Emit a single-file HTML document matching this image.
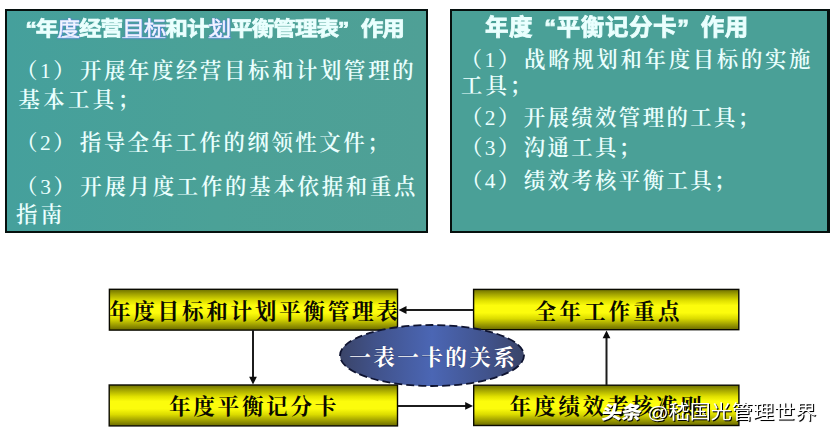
<!DOCTYPE html>
<html lang="zh-CN">
<head>
<meta charset="utf-8">
<title>一表一卡的关系</title>
<style>
html,body{margin:0;padding:0;background:#fff;}
body{width:830px;height:436px;position:relative;overflow:hidden;}
.panel{position:absolute;box-sizing:border-box;background:#4aa097;border:2px solid #06100e;}
#p1{left:5px;top:9px;width:423px;height:224px;background:linear-gradient(90deg,#45a09c 0%,#4ba197 50%,#4fa096 100%);}
#p2{left:450px;top:9px;width:380px;height:224px;border-width:2px 3px 2px 2px;}
.t{position:absolute;white-space:nowrap;color:#eafffe;line-height:30px;height:30px;}
.h{font-family:"Liberation Sans","Noto Sans CJK SC",sans-serif;font-weight:700;-webkit-text-stroke:0.8px #eafffe;}
.k{font-family:"Liberation Serif","Noto Serif CJK SC",serif;font-weight:600;font-size:21.4px;letter-spacing:2.4px;}
.k i{font-style:normal;font-weight:400;}
.q{display:inline-block;width:1em;}
.ql{text-align:right;}
.qr{text-align:left;}
.lk{color:#f3f6ff;font-weight:400;-webkit-text-stroke:0.3px #e8eeff;text-decoration:underline;text-decoration-color:#e3eaff;text-decoration-thickness:1px;text-underline-offset:1.2px;text-shadow:0 0 1px #5a7ae0,0 0 2px #5a7ae0,1px 0 1px #6f8fe8;}
.bt{position:absolute;white-space:nowrap;color:#0a0a00;font-family:"Liberation Serif","Noto Serif CJK SC",serif;font-weight:700;font-size:21.6px;line-height:30px;height:30px;}
svg{position:absolute;left:0;top:0;}
#wm{position:absolute;white-space:nowrap;left:602px;top:398px;height:30px;line-height:30px;color:#fff;font-family:"Liberation Sans","Noto Sans CJK SC",sans-serif;font-size:21.1px;transform:scaleY(0.9);
 text-shadow:1px 1px 0 #000,1px 1px 1px rgba(0,0,0,.5);}
#wm b{display:inline-block;font-weight:900;font-size:20.3px;letter-spacing:-0.6px;margin-left:-0.5px;margin-right:6.3px;transform:skewX(-8deg);}
</style>
</head>
<body>

<div class="panel" id="p1"></div>
<div class="panel" id="p2"></div>

<!-- left panel text -->
<div class="t h" style="left:13.2px;top:15.3px;font-size:22.6px;letter-spacing:-1px;transform:scaleY(0.9);"><span class="q ql">“</span>年<span class="lk">度</span>经营<span class="lk">目标</span>和计<span class="lk">划</span>平衡管理表<span class="q qr">”</span>作用</div>
<div class="t k" style="left:16px;top:56.3px;letter-spacing:2.63px;">（<i>1</i>）<span style="display:inline-block;width:2.5px"></span>开展年度经营目标和计划管理的</div>
<div class="t k" style="left:18.5px;top:84.5px;letter-spacing:3.4px;">基本工具；</div>
<div class="t k" style="left:16px;top:128px;letter-spacing:2.57px;">（<i>2</i>）<span style="display:inline-block;width:2.5px"></span>指导全年工作的纲领性文件；</div>
<div class="t k" style="left:16px;top:172px;letter-spacing:2.75px;">（<i>3</i>）<span style="display:inline-block;width:2.5px"></span>开展月度工作的基本依据和重点</div>
<div class="t k" style="left:16px;top:199.8px;letter-spacing:3.4px;">指南</div>

<!-- right panel text -->
<div class="t h" style="left:485px;top:11.6px;font-size:23.5px;letter-spacing:0.6px;transform:scaleY(0.96);">年度<span class="q ql">“</span>平衡记分卡<span class="q qr">”</span>作用</div>
<div class="t k" style="left:460.5px;top:44.5px;letter-spacing:2.7px;">（<i>1</i>）<span style="display:inline-block;width:2px"></span>战略规划和年度目标的实施</div>
<div class="t k" style="left:461px;top:71px;letter-spacing:3px;">工具；</div>
<div class="t k" style="left:461px;top:103px;">（<i>2</i>）<span style="display:inline-block;width:2px"></span>开展绩效管理的工具；</div>
<div class="t k" style="left:461px;top:133.4px;">（<i>3</i>）<span style="display:inline-block;width:2px"></span>沟通工具；</div>
<div class="t k" style="left:461px;top:166px;">（<i>4</i>）<span style="display:inline-block;width:2px"></span>绩效考核平衡工具；</div>

<!-- diagram boxes -->
<svg width="830" height="436" viewBox="0 0 830 436">
 <defs>
  <linearGradient id="yg" x1="0" y1="0" x2="0" y2="1">
   <stop offset="0" stop-color="#6e7000"/>
   <stop offset="0.12" stop-color="#a2a300"/>
   <stop offset="0.28" stop-color="#e0e000"/>
   <stop offset="0.40" stop-color="#fcfc0c"/>
   <stop offset="0.58" stop-color="#fcfc0c"/>
   <stop offset="0.72" stop-color="#dcdc00"/>
   <stop offset="0.88" stop-color="#9a9a00"/>
   <stop offset="1" stop-color="#6a6a00"/>
  </linearGradient>
 </defs>
 <g fill="url(#yg)" stroke="#0a0a00" stroke-width="1.4">
  <rect x="109.4" y="289.3" width="288.1" height="40.8"/>
  <rect x="109.2" y="385" width="288.3" height="40.9"/>
  <rect x="473.6" y="289.4" width="265.2" height="40.3"/>
  <rect x="473.7" y="385.2" width="265.2" height="40.3"/>
 </g>
</svg>

<div class="bt" style="left:109px;top:296.7px;letter-spacing:2.7px;">年度目标和计划平衡管理表</div>
<div class="bt" style="left:169px;top:392px;letter-spacing:2.7px;">年度平衡记分卡</div>
<div class="bt" style="left:534.5px;top:296.7px;letter-spacing:3.1px;">全年工作重点</div>
<div class="bt" style="left:509.5px;top:392.4px;letter-spacing:2.8px;">年度绩效考核准则</div>

<svg width="830" height="436" viewBox="0 0 830 436">
 <defs>
  <linearGradient id="eg" x1="0" y1="0" x2="1" y2="0">
   <stop offset="0" stop-color="#3a4468"/>
   <stop offset="0.2" stop-color="#41538c"/>
   <stop offset="0.5" stop-color="#4b66b4"/>
   <stop offset="0.8" stop-color="#41538c"/>
   <stop offset="1" stop-color="#3a4468"/>
  </linearGradient>
 </defs>
 <g stroke="#1c1c1c" stroke-width="2" fill="none">
  <line x1="473" y1="310" x2="405" y2="310"/>
  <line x1="398" y1="405.9" x2="467" y2="405.9"/>
  <line x1="253" y1="330" x2="253" y2="378"/>
  <line x1="606.5" y1="385" x2="606.5" y2="337"/>
 </g>
 <g fill="#0c0c0c">
  <polygon points="398.6,310 406.5,306.1 406.5,313.9"/>
  <polygon points="473,405.9 465.2,402 465.2,409.8"/>
  <polygon points="253,384.6 249.1,376.8 256.9,376.8"/>
  <polygon points="606.5,330.4 602.6,338.2 610.4,338.2"/>
 </g>
 <ellipse cx="432" cy="355.5" rx="92" ry="30.5" fill="url(#eg)" stroke="#0e1330" stroke-width="1.8" stroke-dasharray="8 4"/>
 <text x="433.2" y="365.3" text-anchor="middle" font-family="'Liberation Serif','Noto Serif CJK SC',serif" font-weight="700" font-size="21.6" fill="#fff" style="letter-spacing:2.4px;paint-order:stroke" stroke="#1a2450" stroke-width="0.4">一表一卡的关系</text>
</svg>

<div id="wm"><b>头条</b>@嵇国光管理世界</div>

</body>
</html>
